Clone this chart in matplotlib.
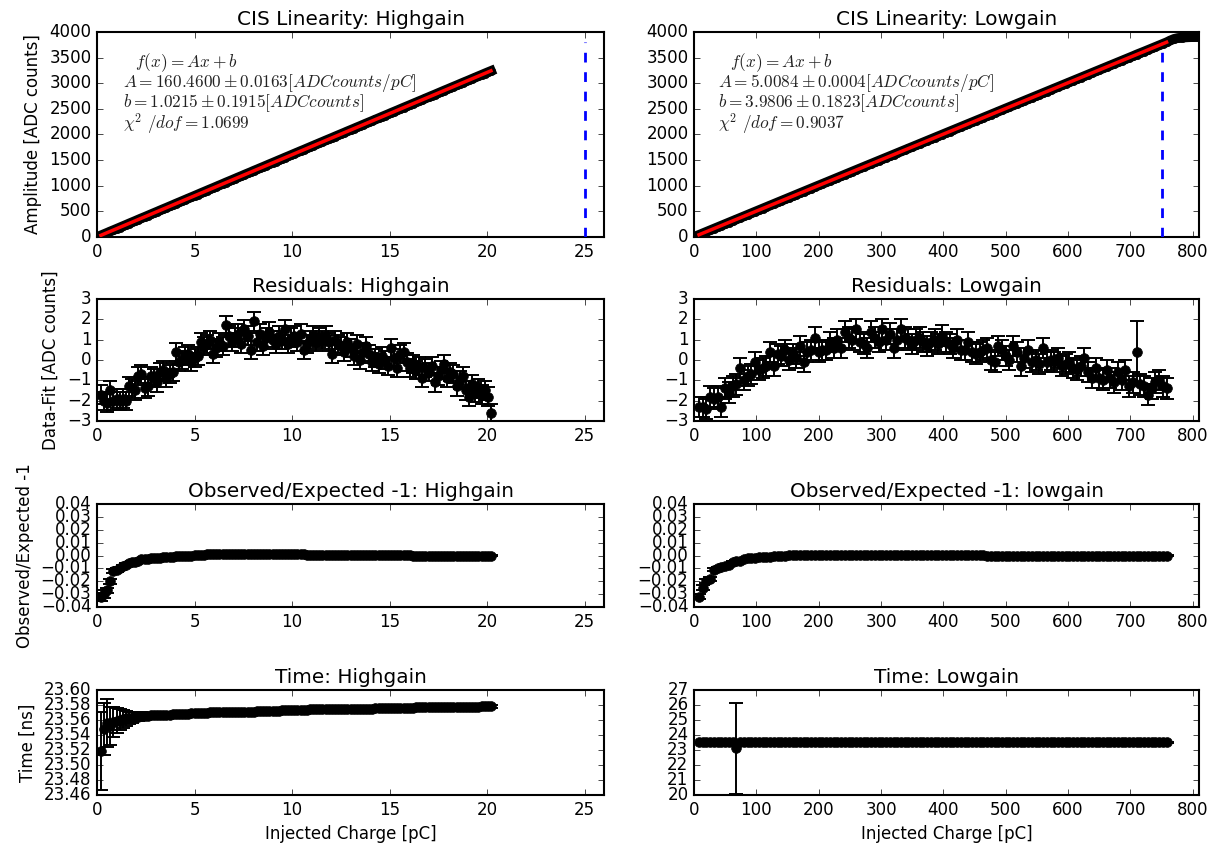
import numpy as np
import matplotlib.pyplot as plt

plt.style.use('classic')
plt.rcParams['figure.facecolor'] = 'white'
plt.rcParams['savefig.facecolor'] = 'white'
plt.rcParams['axes.linewidth'] = 1.5

# injected charge scan settings [pC]
q_hi = np.linspace(0.2, 20.2, 126)
q_lo = np.linspace(8, 758, 126)

# fit results  f(x) = A x + b
A_hi, b_hi = 160.4600, 1.0215
A_lo, b_lo = 5.0084, 3.9806
txt_hi = [r' $f(x)=Ax+b$',
          r'$A=160.4600\pm0.0163[ADCcounts/pC]$',
          r'$b=1.0215\pm0.1915[ADCcounts]$',
          r'$\chi^2\ /dof=1.0699$']
txt_lo = [r' $f(x)=Ax+b$',
          r'$A=5.0084\pm0.0004[ADCcounts/pC]$',
          r'$b=3.9806\pm0.1823[ADCcounts]$',
          r'$\chi^2\ /dof=0.9037$']
cut_hi = 25
cut_lo = 750

# residuals data-fit [ADC counts]
res_hi = [-1.7, -2.0, -2.1, -1.5, -2.0, -1.9, -2.0, -1.9, -2.0,
          -1.3, -1.4, -1.5, -0.8, -0.7, -1.4, -1.3, -0.8, -0.9,
          -1.1, -0.6, -0.5, -0.9, -0.7, -0.6, 0.4, -0.1, 0.0,
          0.2, 0.3, -0.1, 0.1, 0.2, 0.9, 0.7, 0.8, 1.0,
          0.3, 0.6, 0.9, 0.7, 1.7, 1.2, 0.9, 1.1, 1.3,
          0.8, 1.5, 1.2, 0.5, 1.9, 0.9, 1.3, 0.7, 1.1,
          1.4, 1.0, 0.8, 1.2, 1.0, 1.5, 0.8, 1.1, 1.2,
          0.9, 1.3, 0.5, 0.8, 1.0, 1.2, 0.9, 1.1, 1.0,
          1.2, 0.9, 0.3, 1.0, 0.8, 0.7, 0.4, 0.9, 0.6,
          0.2, 0.8, 0.0, 0.4, 0.7, 0.3, -0.1, 0.1, -0.2,
          0.2, 0.0, -0.3, 0.6, 0.1, -0.4, 0.3, 0.4, -0.1,
          -0.4, -0.2, -0.5, -0.3, -0.9, -0.4, -0.6, -0.3, -1.1,
          -0.8, -0.5, -0.2, -0.9, -0.6, -0.7, -1.3, -1.0, -0.8,
          -1.5, -1.8, -1.2, -1.6, -1.4, -1.7, -1.5, -1.8, -2.6]
res_hi_err = np.full(126, 0.45)

res_lo = [-2.3, -2.3, -2.4, -1.8, -1.9, -1.8, -2.3, -1.4, -1.6,
          -1.3, -1.2, -0.4, -1.0, -0.8, -0.7, -0.1, -0.5, -0.4,
          -0.3, 0.4, -0.3, 0.3, 0.2, 0.5, 0.0, 0.3, 0.1,
          0.7, -0.1, 0.4, 0.5, 1.1, 0.4, 0.5, 0.5, 0.9,
          0.6, 1.0, 0.6, 1.4, 1.1, 1.0, 1.5, 0.9, 0.8,
          0.6, 1.4, 1.1, 0.9, 1.5, 1.0, 1.3, 0.6, 1.0,
          1.5, 1.1, 1.0, 0.8, 1.0, 1.1, 0.9, 0.7, 0.9,
          1.0, 0.8, 1.2, 0.9, 0.8, 0.6, 1.0, 0.5, 0.5,
          0.9, 0.4, 0.3, 0.4, 0.5, 0.6, 0.0, -0.1, 0.7,
          0.5, 0.2, 0.0, 0.7, 0.4, -0.3, 0.1, 0.5, -0.1,
          0.0, -0.2, 0.6, -0.1, 0.0, -0.1, 0.1, -0.3, -0.2,
          -0.1, -0.4, -0.5, -0.3, 0.1, -0.6, -0.9, -0.4, -0.9,
          -1.0, -0.5, -0.9, -1.1, -0.6, -1.0, -0.5, -1.3, -1.1,
          0.4, -1.2, -1.3, -1.7, -1.4, -1.1, -1.0, -1.3, -1.4]
res_lo_err = np.full(126, 0.5)
res_lo_err[117] = 1.5

# saturated lowgain points beyond the fit range
q_sat = [764, 770, 776, 782, 788, 794, 800, 806]
amp_sat = [3835, 3865, 3882, 3890, 3895, 3898, 3900, 3902]

# observed/expected - 1
obs_hi = [-0.032, -0.030, -0.027, -0.020, -0.012, -0.011, -0.010, -0.008, -0.007,
          -0.006, -0.005, -0.005, -0.004, -0.003, -0.003, -0.003, -0.002, -0.002,
          -0.002, -0.002, -0.001, -0.001, -0.001, -0.001, 0.000, 0.000, 0.000,
          0.000, 0.000, 0.000, 0.0005, 0.0005, 0.0005, 0.0005, 0.001, 0.001,
          0.001, 0.001, 0.001, 0.001, 0.0015, 0.0015, 0.001, 0.001, 0.001,
          0.001, 0.001, 0.001, 0.001, 0.001, 0.001, 0.001, 0.001, 0.001,
          0.001, 0.001, 0.001, 0.001, 0.001, 0.001, 0.001, 0.001, 0.001,
          0.001, 0.001, 0.001, 0.0008, 0.0008, 0.0008, 0.0008, 0.0008, 0.0008,
          0.0008, 0.0006, 0.0006, 0.0006, 0.0006, 0.0006, 0.0006, 0.0005, 0.0005,
          0.0005, 0.0005, 0.0005, 0.0004, 0.0004, 0.0004, 0.0004, 0.0003, 0.0003,
          0.0003, 0.0003, 0.0002, 0.0002, 0.0002, 0.0002, 0.0001, 0.0001, 0.0001,
          0.0001, 0.0000, 0.0000, 0.0000, 0.0000, 0.0000, -0.0001, -0.0001, -0.0001,
          -0.0001, -0.0001, -0.0002, -0.0002, -0.0002, -0.0002, -0.0002, -0.0002, -0.0003,
          -0.0003, -0.0003, -0.0003, -0.0003, -0.0003, -0.0003, -0.0003, -0.0003, -0.0003]
obs_hi_err = np.r_[[0.003, 0.003, 0.002, 0.002, 0.0015, 0.0015, 0.001, 0.001, 0.001],
                   np.full(117, 0.0004)]

obs_lo = [-0.032, -0.025, -0.020, -0.018, -0.011, -0.010, -0.009, -0.008, -0.007,
          -0.005, -0.004, -0.004, -0.003, -0.002, -0.002, -0.002, -0.0015, -0.001,
          -0.001, -0.001, -0.0005, 0.000, 0.000, 0.000, 0.0003, 0.0003, 0.0005,
          0.0005, 0.0005, 0.0005, 0.0005, 0.0005, 0.0005, 0.0005, 0.0005, 0.0005,
          0.0005, 0.0005, 0.0005, 0.0005, 0.0005, 0.0005, 0.0005, 0.0005, 0.0005,
          0.0005, 0.0005, 0.0005, 0.0005, 0.0005, 0.0005, 0.0004, 0.0004, 0.0004,
          0.0004, 0.0004, 0.0004, 0.0004, 0.0004, 0.0003, 0.0003, 0.0003, 0.0003,
          0.0003, 0.0003, 0.0003, 0.0002, 0.0002, 0.0002, 0.0002, 0.0002, 0.0002,
          0.0001, 0.0001, 0.0001, 0.0001, 0.0001, 0.0000, 0.0000, 0.0000, 0.0000,
          0.0000, 0.0000, -0.0001, -0.0001, -0.0001, -0.0001, -0.0001, -0.0001, -0.0001,
          -0.0002, -0.0002, -0.0002, -0.0002, -0.0002, -0.0002, -0.0002, -0.0002, -0.0002,
          -0.0002, -0.0003, -0.0003, -0.0003, -0.0003, -0.0003, -0.0003, -0.0003, -0.0003,
          -0.0003, -0.0003, -0.0003, -0.0003, -0.0003, -0.0003, -0.0003, -0.0003, -0.0003,
          -0.0003, -0.0003, -0.0003, -0.0003, -0.0003, -0.0003, -0.0003, -0.0003, -0.0003]
obs_lo_err = np.r_[[0.002, 0.002, 0.0015, 0.0015, 0.001, 0.001, 0.001],
                   np.full(119, 0.0004)]

# time [ns]
time_hi = [23.518, 23.548, 23.556, 23.552, 23.557, 23.559, 23.560, 23.561, 23.562,
           23.563, 23.563, 23.564, 23.564, 23.565, 23.565, 23.565, 23.566, 23.566,
           23.566, 23.567, 23.567, 23.567, 23.567, 23.568, 23.568, 23.568, 23.568,
           23.568, 23.568, 23.569, 23.569, 23.569, 23.569, 23.569, 23.569, 23.570,
           23.570, 23.570, 23.570, 23.570, 23.570, 23.570, 23.571, 23.571, 23.571,
           23.571, 23.571, 23.571, 23.571, 23.571, 23.572, 23.572, 23.572, 23.572,
           23.572, 23.572, 23.572, 23.572, 23.573, 23.573, 23.573, 23.573, 23.573,
           23.573, 23.573, 23.573, 23.573, 23.574, 23.574, 23.574, 23.574, 23.574,
           23.574, 23.574, 23.574, 23.574, 23.574, 23.575, 23.575, 23.575, 23.575,
           23.575, 23.575, 23.575, 23.575, 23.575, 23.575, 23.575, 23.576, 23.576,
           23.576, 23.576, 23.576, 23.576, 23.576, 23.576, 23.576, 23.576, 23.576,
           23.576, 23.576, 23.577, 23.577, 23.577, 23.577, 23.577, 23.577, 23.577,
           23.577, 23.577, 23.577, 23.577, 23.577, 23.577, 23.577, 23.577, 23.577,
           23.577, 23.577, 23.577, 23.577, 23.577, 23.578, 23.578, 23.578, 23.578]
time_hi_err = np.r_[[0.052, 0.035, 0.032, 0.025, 0.020, 0.017, 0.014, 0.012, 0.010,
                     0.008, 0.007, 0.006, 0.005, 0.005, 0.004, 0.004, 0.003, 0.003],
                    np.full(108, 0.002)]

time_lo = [23.5] * 10 + [23.1] + [23.5] * 115
time_lo_err = np.full(126, 0.05)
time_lo_err[10] = 3.05

fig = plt.figure(figsize=(12.11, 8.55), dpi=100)
cols = [(0.0801, 0.4187), (0.5731, 0.4170)]
rows = [(0.7228, 0.2398), (0.5076, 0.1427), (0.2900, 0.1205), (0.0702, 0.1228)]
axes = [[fig.add_axes([c[0], r[0], c[1], r[1]]) for c in cols] for r in rows]

q_all = [q_hi, q_lo]
xlims = [(0, 26), (0, 810)]
xticks = [np.arange(0, 26, 5), np.arange(0, 801, 100)]
gains = ['Highgain', 'Lowgain']
fits = [(A_hi, b_hi), (A_lo, b_lo)]
res_all = [(res_hi, res_hi_err), (res_lo, res_lo_err)]
texts = [txt_hi, txt_lo]
cuts = [cut_hi, cut_lo]
eb = dict(fmt='ko', ms=7, capsize=5, ecolor='k', elinewidth=1.4, capthick=1.4)

for j in range(2):
    q = q_all[j]
    A, b = fits[j]
    res, res_err = res_all[j]
    amp = A * q + b + np.array(res)

    # linearity
    ax = axes[0][j]
    if j == 1:
        ax.plot(np.r_[q, q_sat], np.r_[amp, amp_sat], 'ko-', ms=6, lw=7, zorder=2)
    else:
        ax.plot(q, amp, 'ko-', ms=6, lw=7, zorder=2)
    ax.plot(q, A * q + b, 'r-', lw=2.5, zorder=5)
    ax.axvline(cuts[j], ymax=0.95, color='b', lw=2, ls='--', dashes=(7, 7), zorder=4)
    ax.set_ylim(0, 4000)
    ax.set_yticks(np.arange(0, 4001, 500))
    ax.set_title('CIS Linearity: ' + gains[j])
    x0 = [0.065, 0.061][j]
    x1 = [0.051, 0.048][j]
    for k, (t, yy) in enumerate(zip(texts[j], [0.849, 0.751, 0.654, 0.551])):
        ax.text(x0 if k == 0 else x1, yy, t, transform=ax.transAxes,
                fontsize=12.4, va='center', ha='left', color='#222222', zorder=6)

    # residuals
    ax = axes[1][j]
    ax.errorbar(q, res, yerr=res_err, **eb)
    ax.set_ylim(-3, 3)
    ax.set_yticks(np.arange(-3, 4, 1))
    ax.set_title('Residuals: ' + gains[j])

    # observed / expected
    ax = axes[2][j]
    obs, obs_err = [(obs_hi, obs_hi_err), (obs_lo, obs_lo_err)][j]
    ax.errorbar(q, obs, yerr=obs_err, **eb)
    ax.set_ylim(-0.04, 0.04)
    ax.set_yticks(np.linspace(-0.04, 0.04, 9))
    ax.set_title('Observed/Expected -1: ' + ['Highgain', 'lowgain'][j])

    # time
    ax = axes[3][j]
    tm, tm_err = [(time_hi, time_hi_err), (time_lo, time_lo_err)][j]
    ax.errorbar(q, tm, yerr=tm_err, **eb)
    if j == 0:
        ax.set_ylim(23.46, 23.60)
        ax.set_yticks(np.linspace(23.46, 23.60, 8))
    else:
        ax.set_ylim(20, 27)
        ax.set_yticks(np.arange(20, 28, 1))
    ax.yaxis.get_major_formatter().set_useOffset(False)
    ax.set_title('Time: ' + gains[j])
    ax.set_xlabel('Injected Charge [pC]')

    for i in range(4):
        axes[i][j].set_xlim(*xlims[j])
        axes[i][j].set_xticks(xticks[j])

axes[0][0].set_ylabel('Amplitude [ADC counts]')
axes[1][0].set_ylabel('Data-Fit [ADC counts]')
axes[2][0].set_ylabel('Observed/Expected -1')
axes[3][0].set_ylabel('Time [ns]')

fig.savefig('out.png', dpi=100)
